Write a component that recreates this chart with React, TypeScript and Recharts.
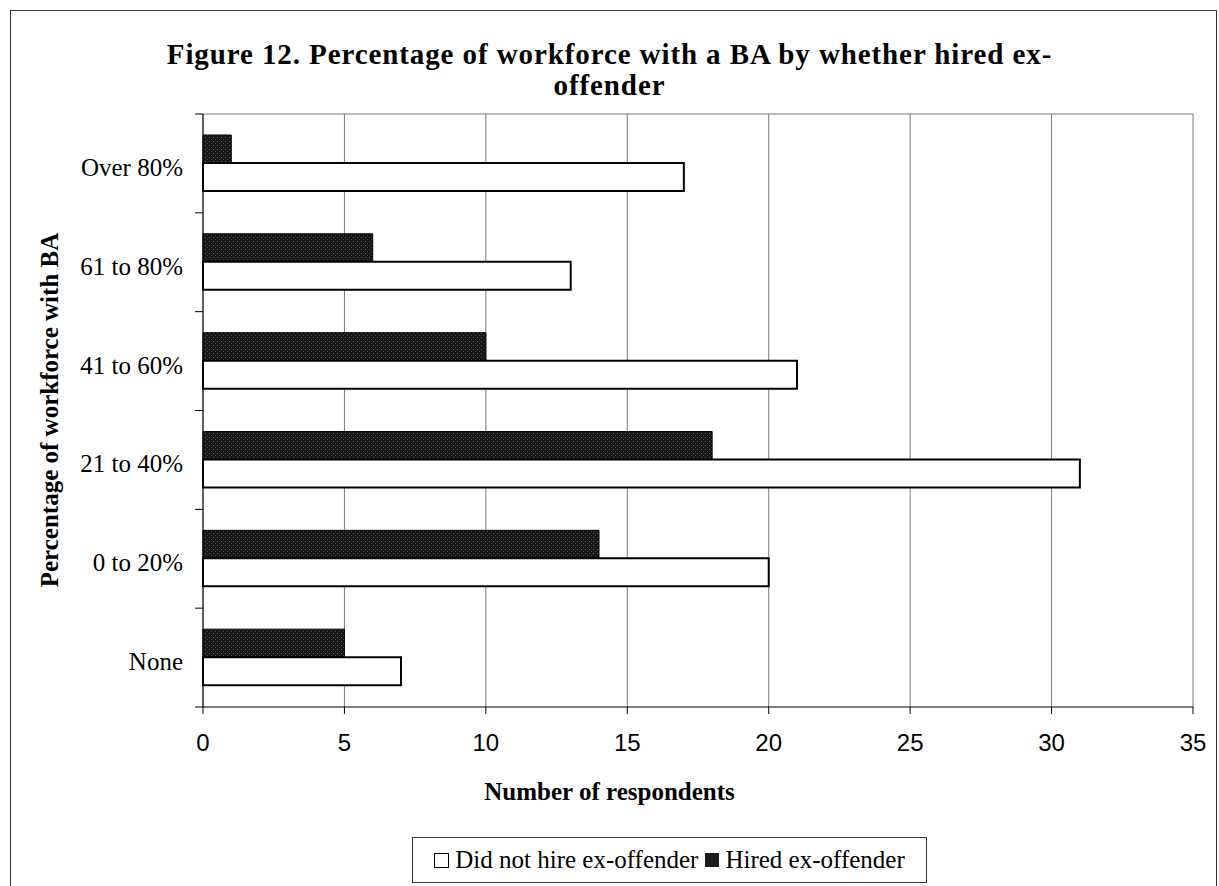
import React from 'react';
import { BarChart, Bar, XAxis, YAxis, CartesianGrid } from 'recharts';

const categories = ['Over 80%', '61 to 80%', '41 to 60%', '21 to 40%', '0 to 20%', 'None'];
const didNotHire = [17, 13, 21, 31, 20, 7];
const hired = [1, 6, 10, 18, 14, 5];
const xTicks = [0, 5, 10, 15, 20, 25, 30, 35];

const data = categories.map((name, i) => ({
  name,
  didNotHire: didNotHire[i],
  hired: hired[i],
}));

const serif = '"Liberation Serif", "Times New Roman", serif';
const sans = '"Liberation Sans", Arial, sans-serif';

const LABEL_GAP = 20;
const EDGE_TICK = 8;

// category label plus Excel-style tick marks on the band edges
const CategoryTick = (props: any) => {
  const { x, y, payload, index, visibleTicksCount } = props;
  const half = payload?.offset ?? 0;
  const axisX = x + LABEL_GAP;
  return (
    <g>
      <text
        x={x}
        y={y}
        dy={4}
        textAnchor="end"
        dominantBaseline="central"
        fill="#000"
        fontSize={25}
        fontFamily={serif}
      >
        {payload.value}
      </text>
      <line x1={axisX - EDGE_TICK} x2={axisX} y1={y - half} y2={y - half} stroke="#000" />
      {index === visibleTicksCount - 1 && (
        <line x1={axisX - EDGE_TICK} x2={axisX} y1={y + half} y2={y + half} stroke="#000" />
      )}
    </g>
  );
};

export default function App() {
  return (
    <div
      style={{
        position: 'absolute',
        left: 0,
        top: 0,
        width: 1219,
        height: 886,
        overflow: 'hidden',
        background: '#fff',
        fontFamily: serif,
      }}
    >
      {/* outer frame */}
      <div
        style={{
          position: 'absolute',
          left: 10,
          top: 10,
          width: 1205,
          height: 900,
          border: '1px solid #333',
        }}
      />

      <div
        style={{
          position: 'absolute',
          left: 0,
          width: 1219,
          top: 39,
          textAlign: 'center',
          fontWeight: 'bold',
          fontSize: 29,
          letterSpacing: 0.9,
          lineHeight: '31px',
          color: '#000',
        }}
      >
        Figure 12. Percentage of workforce with a BA by whether hired ex-
        <br />
        offender
      </div>

      <BarChart
        width={1219}
        height={886}
        data={data}
        layout="vertical"
        barGap={0}
        margin={{ top: 114, right: 26, bottom: 139, left: 83 }}
        style={{ position: 'absolute', left: 0, top: 0 }}
      >
        <defs>
          <pattern id="stipple" width="4" height="4" patternUnits="userSpaceOnUse">
            <rect width="4" height="4" fill="#161616" />
            <rect x="1" y="1" width="1" height="1" fill="#5e5e5e" />
            <rect x="3" y="3" width="1" height="1" fill="#474747" />
          </pattern>
        </defs>
        <CartesianGrid
          stroke="#7a7a7a"
          strokeWidth={1}
          horizontalCoordinatesGenerator={({ offset }: any) => [offset.top]}
        />
        <XAxis
          type="number"
          domain={[0, 35]}
          ticks={xTicks}
          interval={0}
          height={40}
          tickSize={7}
          tickMargin={20}
          stroke="#000"
          tick={{ fill: '#000', fontSize: 24, fontFamily: sans }}
        />
        <YAxis
          type="category"
          dataKey="name"
          width={120}
          tickLine={false}
          tickSize={0}
          tickMargin={LABEL_GAP}
          stroke="#000"
          interval={0}
          tick={<CategoryTick />}
        />
        <Bar
          dataKey="hired"
          name="Hired ex-offender"
          fill="url(#stipple)"
          stroke="#000"
          strokeWidth={1}
          barSize={28}
          isAnimationActive={false}
        />
        <Bar
          dataKey="didNotHire"
          name="Did not hire ex-offender"
          fill="#fff"
          stroke="#000"
          strokeWidth={2}
          barSize={28}
          isAnimationActive={false}
        />
      </BarChart>

      <div
        style={{
          position: 'absolute',
          left: 50,
          top: 410,
          transform: 'translate(-50%, -50%) rotate(-90deg)',
          whiteSpace: 'nowrap',
          fontWeight: 'bold',
          fontSize: 25,
          color: '#000',
        }}
      >
        Percentage of workforce with BA
      </div>

      <div
        style={{
          position: 'absolute',
          left: 0,
          width: 1219,
          top: 778,
          textAlign: 'center',
          fontWeight: 'bold',
          fontSize: 25,
          color: '#000',
        }}
      >
        Number of respondents
      </div>

      <div
        style={{
          position: 'absolute',
          left: 412,
          top: 837,
          width: 515,
          height: 46,
          boxSizing: 'border-box',
          border: '1px solid #333',
          display: 'flex',
          alignItems: 'center',
          justifyContent: 'center',
          fontSize: 25,
          color: '#000',
          whiteSpace: 'nowrap',
        }}
      >
        <span
          style={{
            display: 'inline-block',
            width: 13,
            height: 13,
            border: '1.5px solid #000',
            background: '#fff',
            marginRight: 6,
          }}
        />
        Did not hire ex-offender
        <span
          style={{
            display: 'inline-block',
            width: 14,
            height: 14,
            background: '#1a1a1a',
            marginLeft: 7,
            marginRight: 6,
          }}
        />
        Hired ex-offender
      </div>
    </div>
  );
}
